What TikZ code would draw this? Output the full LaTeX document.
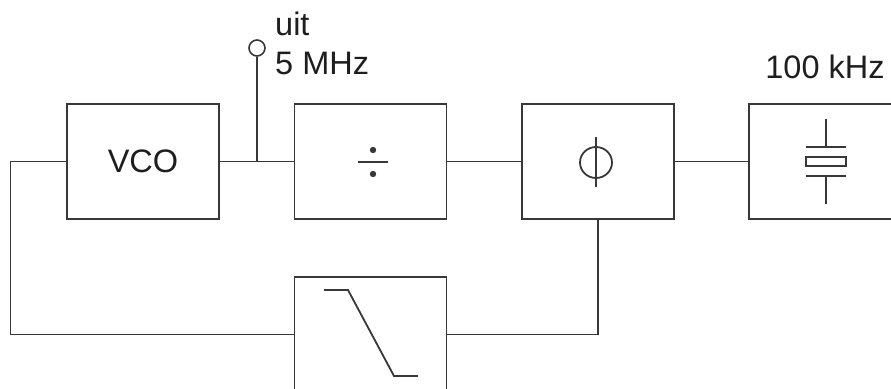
\documentclass[tikz,border=0pt]{standalone}
\usepackage{fontspec}
\setmainfont{Liberation Sans}
\definecolor{lc}{HTML}{383838}
\definecolor{tc}{HTML}{1E1E1E}
\tikzset{
  blk/.style={draw=lc, line width=1.8pt, minimum width=152pt, minimum height=115pt, inner sep=0pt,
    text=tc, font=\fontsize{32.5}{38}\selectfont},
  wire/.style={draw=lc, line width=1.8pt},
  sym/.style={draw=lc, line width=1.8pt},
  lbl/.style={text=tc, font=\fontsize{32.5}{38}\selectfont, inner sep=0pt}
}
\begin{document}
\begin{tikzpicture}[x=1pt,y=-1pt]
\useasboundingbox (0,0) rectangle (891,388);
\node[blk] (vco) at (143,161.5) {VCO};
\node[blk] (div) at (370.5,161.5) {};
\node[blk] (phi) at (598,161.5) {};
\node[blk, minimum width=170pt] (xtal) at (834,161.5) {};
\node[blk] (lpf) at (370.5,334.5) {};
% output terminal
\node[circle, draw=lc, line width=1.6pt, minimum size=16pt, inner sep=0pt] (out) at (257,48) {};
\coordinate (tap) at (257,161.5);
\coordinate (fl) at (10.5,161.5);
\draw[wire] (vco.east) -- (div.west);
\draw[wire] (out.south) -- (tap);
\draw[wire] (div.east) -- (phi.west);
\draw[wire] (phi.east) -- (xtal.west);
\draw[wire] (vco.west) -- (fl) |- (lpf.west);
\draw[wire] (phi.south) |- (lpf.east);
% labels
\node[lbl, anchor=base west] (uit) at (275,35) {uit};
\node[lbl, anchor=base west] (mhz) at (275,74) {5 MHz};
\node[lbl, anchor=base] (khz) at (825,78) {100 kHz};
% divide symbol
\draw[sym] (358,162) -- (388,162);
\fill[lc] (373,150) circle (3.2);
\fill[lc] (373,174) circle (3.2);
% phi symbol
\draw[sym] (596,162.5) ellipse (16 and 15.5);
\draw[sym] (596,137) -- (596,187);
% filter symbol
\draw[sym] (324,290) -- (348,290) -- (394,376) -- (418,376);
% crystal symbol
\draw[sym] (826,119) -- (826,147);
\draw[sym] (806,147) -- (846,147);
\draw[sym] (806,157) rectangle (846,166);
\draw[sym] (806,176) -- (846,176);
\draw[sym] (826,176) -- (826,204);
\end{tikzpicture}
\end{document}
